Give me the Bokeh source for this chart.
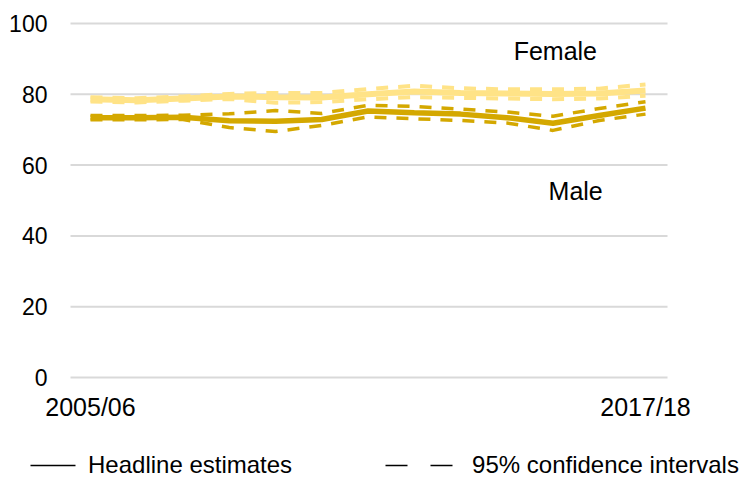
import numpy as np
from bokeh.plotting import figure
from bokeh.models import Range1d, Legend, LegendItem, ColumnDataSource
from bokeh.core.properties import value
from bokeh.embed import file_html
from bokeh.resources import INLINE

years = ["2005/06", "2006/07", "2007/08", "2008/09", "2009/10", "2010/11", "2011/12",
         "2012/13", "2013/14", "2014/15", "2015/16", "2016/17", "2017/18"]
female = [78.6, 78.3, 78.8, 79.4, 79.2, 79.1, 80.0, 80.8, 80.4, 80.2, 80.1, 80.2, 81.1]
female_hi = [79.2, 78.9, 79.4, 80.1, 80.4, 80.4, 81.5, 82.4, 81.7, 81.4, 81.4, 81.6, 82.8]
female_lo = [78.0, 77.7, 78.2, 78.7, 77.6, 77.8, 78.6, 79.2, 79.0, 78.8, 78.6, 78.8, 79.6]
male = [73.4, 73.4, 73.5, 72.5, 72.4, 72.9, 75.3, 74.8, 74.4, 73.4, 71.8, 74.0, 76.1]
male_hi = [74.0, 74.0, 74.1, 74.5, 75.4, 74.6, 76.9, 76.6, 75.8, 75.0, 73.8, 76.0, 77.9]
male_lo = [72.8, 72.8, 72.9, 70.6, 69.5, 71.2, 73.6, 73.1, 72.6, 71.9, 69.8, 72.6, 74.4]
y_ticks = [0, 20, 40, 60, 80, 100]
x_tick_idx = [0, 12]

FONT = "Liberation Sans"
FEMALE_C = "#FFE387"
MALE_C = "#D4A800"

# plotting-area geometry in data units
GRID_X0, GRID_X1 = -0.4324, 12.476
YLAB_X = -0.93
XLAB_Y = -4.5

x = list(range(len(years)))
src = ColumnDataSource(dict(x=x, female=female, female_hi=female_hi, female_lo=female_lo,
                            male=male, male_hi=male_hi, male_lo=male_lo))

p = figure(width=741, height=479, output_backend="svg", toolbar_location=None, title=None,
           x_axis_location=None, y_axis_location=None,
           x_range=Range1d(-1.9459, 14.0757), y_range=Range1d(-28.814, 106.497),
           min_border_left=0, min_border_right=0, min_border_top=0, min_border_bottom=0)
p.outline_line_color = None
p.grid.grid_line_color = None
p.background_fill_color = "white"
p.border_fill_color = "white"

# horizontal gridlines at the y ticks
p.segment(x0=[GRID_X0] * len(y_ticks), x1=[GRID_X1] * len(y_ticks), y0=y_ticks, y1=y_ticks,
          line_color="#D9D9D9", line_width=2)
# y tick labels
p.text(x=[YLAB_X] * len(y_ticks), y=y_ticks, text=[str(t) for t in y_ticks],
       text_font=value(FONT), text_font_size="23px", text_align="right",
       text_baseline="middle", text_color="#000000")
# x tick labels
p.text(x=x_tick_idx, y=[XLAB_Y] * len(x_tick_idx), text=[years[i] for i in x_tick_idx],
       text_font=value(FONT), text_font_size="25px", text_align="center",
       text_baseline="top", text_color="#000000")

# female
p.line("x", "female_hi", source=src, color=FEMALE_C, line_width=4, line_dash="12 10")
p.line("x", "female_lo", source=src, color=FEMALE_C, line_width=4, line_dash="12 10")
p.line("x", "female", source=src, color=FEMALE_C, line_width=6)
# male
p.line("x", "male_hi", source=src, color=MALE_C, line_width=3.5, line_dash="12 10")
p.line("x", "male_lo", source=src, color=MALE_C, line_width=3.5, line_dash="12 10")
p.line("x", "male", source=src, color=MALE_C, line_width=5.5)

p.text(x=[10.05], y=[92.1], text=["Female"], text_font=value(FONT), text_font_size="25px",
       text_align="center", text_baseline="middle", text_color="#000000")
p.text(x=[10.49], y=[52.7], text=["Male"], text_font=value(FONT), text_font_size="25px",
       text_align="center", text_baseline="middle", text_color="#000000")

# legend (dummy renderers with no visible data); dash offsets shape the sample lines
r1 = p.line([np.nan], [np.nan], color="#000000", line_width=1.5, line_dash="0 30 45 100")
r2 = p.line([np.nan], [np.nan], color="#000000", line_width=1.5, line_dash="0 1 22 23 22 100")
legend = Legend(items=[LegendItem(label="Headline estimates", renderers=[r1]),
                       LegendItem(label="95% confidence intervals", renderers=[r2])],
                location=(0, 0), orientation="horizontal",
                glyph_width=83, glyph_height=20, label_height=20, label_standoff=5, spacing=92,
                padding=0, margin=0, border_line_color=None, background_fill_alpha=0,
                label_text_font=FONT, label_text_font_size="24px", label_text_color="#000000")
p.add_layout(legend, "center")

open("out.html", "w").write(file_html(p, INLINE))
